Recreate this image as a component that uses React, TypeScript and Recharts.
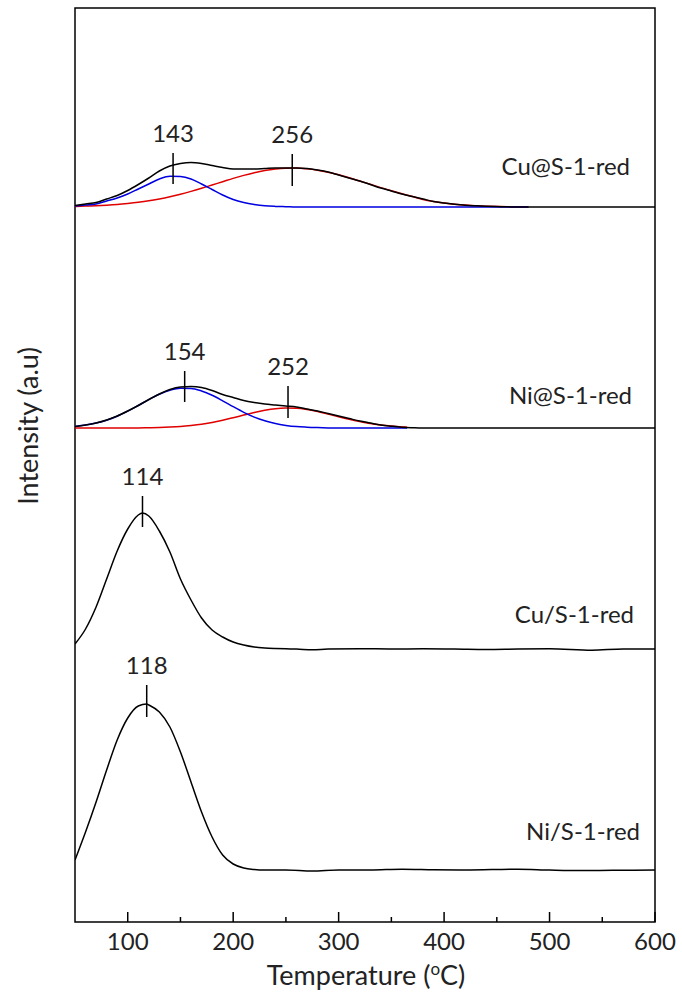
import { LineChart, Line, XAxis, YAxis, ReferenceArea, ReferenceLine, ReferenceDot } from "recharts";

const FONT = "Lato, 'Open Sans', sans-serif";
const TEXT = "#222";

// Cu@S-1-red: measured trace plus the two fitted components
const cuAtTemp = [50, 60, 70, 80, 90, 100, 110, 120, 130, 140, 150, 160, 170, 180, 190, 200, 210, 220, 230, 240, 250, 260, 270, 280, 290, 300, 310, 320, 330, 340, 350, 360, 370, 380, 390, 400, 410, 420, 430, 440, 450, 460, 470, 480, 500, 520, 540, 560, 580, 600];
const cuAtTotal = [1.5, 3, 4.5, 8, 11.5, 16.5, 22.5, 29, 36, 41, 43.5, 44.5, 43.5, 41.5, 39.5, 38, 38, 38, 38.5, 39, 39, 39, 38.5, 37, 35, 32, 29, 26, 22.5, 19, 16, 13, 10.5, 8, 5.5, 4, 2.8, 1.8, 1.2, 0.7, 0.4, 0.2, 0, 0, 0, 0, 0, 0, 0, 0];
const cuAtFitTemp = [50, 60, 70, 80, 90, 100, 110, 120, 130, 140, 150, 160, 170, 180, 190, 200, 210, 220, 230, 240, 250, 260, 270, 280, 290, 300, 310, 320, 330, 340, 350, 360, 370, 380, 390, 400, 410, 420, 430, 440, 450, 460, 470, 480];
const cuAtLow = [1, 2, 3, 6, 9, 13, 18, 23, 28, 30.8, 30.5, 28, 23, 17.5, 12, 7.5, 4.5, 2.5, 1.2, 0.6, 0.3, 0, 0, 0, 0, 0, 0, 0, 0, 0, 0, 0, 0, 0, 0, 0, 0, 0, 0, 0, 0, 0, 0, 0];
const cuAtHigh = [0.6, 0.9, 1.3, 1.8, 2.5, 3.5, 4.7, 6.2, 8.1, 10.3, 12.8, 15.6, 18.7, 22, 25.3, 28.6, 31.6, 34.3, 36.5, 38, 38.8, 39, 38.2, 36.8, 34.8, 32.2, 29.2, 26, 22.7, 19.4, 16.2, 13.3, 10.5, 7.5, 5.5, 4, 2.8, 1.9, 1.2, 0.8, 0.5, 0.3, 0.15, 0];

// Ni@S-1-red
const niAtTemp = [50, 60, 70, 80, 90, 100, 110, 120, 130, 140, 150, 160, 170, 180, 190, 200, 210, 220, 230, 240, 250, 260, 270, 280, 290, 300, 310, 320, 330, 340, 350, 360, 370, 380, 400, 420, 440, 460, 480, 500, 520, 540, 560, 580, 600];
const niAtTotal = [1.5, 3, 5, 8, 12, 17, 22.5, 28.5, 34, 38.5, 41, 41.5, 40.5, 37.5, 33.5, 30.5, 27.5, 25.5, 24, 23, 22, 21, 19, 17, 14.5, 12, 9.5, 7, 5, 3, 1.8, 0.8, 0.3, 0, 0, 0, 0, 0, 0, 0, 0, 0, 0, 0, 0];
const niAtFitTemp = [50, 60, 70, 80, 90, 100, 110, 120, 130, 140, 150, 160, 170, 180, 190, 200, 210, 220, 230, 240, 250, 260, 270, 280, 290, 300, 310, 320, 330, 340, 350, 360, 365];
const niAtLow = [1.6, 2.9, 4.9, 7.8, 11.8, 16.8, 22.5, 28.4, 33.7, 37.7, 39.8, 39.6, 37, 32.7, 27.2, 21.3, 15.7, 10.9, 7.2, 4.4, 2.6, 1.4, 0.8, 0.4, 0.1, 0, 0, 0, 0, 0, 0, 0, 0];
const niAtHigh = [0, 0, 0, 0, 0, 0, 0.1, 0.3, 0.5, 0.9, 1.5, 2.5, 3.8, 5.6, 7.7, 10.3, 12.9, 15.5, 17.7, 19.3, 19.9, 19.7, 18.5, 16.5, 14, 11.3, 8.7, 6.4, 4.4, 3, 1.9, 1.1, 0.8];

// Cu/S-1-red
const cuTemp = [50, 60, 70, 80, 90, 100, 110, 114, 120, 130, 140, 150, 160, 170, 180, 190, 200, 210, 220, 230, 240, 250, 260, 275, 290, 320, 350, 380, 410, 440, 470, 500, 540, 570, 600];
const cuSignal = [5, 20, 42, 70, 98, 120, 134, 136, 133, 118, 97, 70, 49, 31, 19, 12, 7, 4, 2, 1, 0.5, 0.2, 0, -0.8, 0, 0.3, 0, 0.2, 0, -0.5, 0, 0.3, -1.2, 0, 0];

// Ni/S-1-red
const niTemp = [50, 60, 70, 80, 90, 100, 110, 118, 120, 130, 140, 150, 160, 170, 180, 190, 200, 210, 220, 230, 250, 275, 300, 330, 360, 390, 420, 470, 500, 530, 560, 600];
const niSignal = [10, 38, 68, 100, 130, 152, 164, 166, 165, 158, 143, 118, 88, 58, 33, 15, 6, 2, 0.5, 0, 0, -1, 0, 0, 0.8, 0.3, 0, 0.8, 0, -0.5, -0.3, 0];

// peak positions and the span of each marker above its own baseline
const peakTemps = [143, 256, 154, 252, 114, 118];
const peakMarkLow = [23, 21, 26, 10, 122, 153];
const peakMarkHigh = [54, 53, 57, 42, 153, 185];

const xTicks = [100, 200, 300, 400, 500, 600];
const xMinorTicks = [150, 250, 350, 450, 550];

// vertical stacking of the four traces
const CU_AT_BASE = 715;
const NI_AT_BASE = 494;
const CU_BASE = 273;
const NI_BASE = 52;
const Y_MAX = 914;
const peakBase = [CU_AT_BASE, CU_AT_BASE, NI_AT_BASE, NI_AT_BASE, CU_BASE, NI_BASE];

const toPoints = (temps: number[], vals: number[], base: number) =>
  temps.map((t, i) => ({ t, v: vals[i] + base }));

const RED = "#e00000";
const BLUE = "#0000e0";

export default function App() {
  const curve = (key: string, temps: number[], vals: number[], base: number, color: string) => (
    <Line
      key={key}
      data={toPoints(temps, vals, base)}
      dataKey="v"
      type="monotone"
      stroke={color}
      strokeWidth={1.5}
      dot={false}
      activeDot={false}
      isAnimationActive={false}
    />
  );

  return (
    <div style={{ position: "absolute", left: 0, top: 0, background: "#fff" }}>
      <LineChart width={682} height={996} margin={{ top: 8, right: 27, left: 75, bottom: 0 }}>
        <XAxis
          dataKey="t"
          type="number"
          domain={[50, 600]}
          ticks={xTicks}
          allowDataOverflow
          height={74}
          axisLine={false}
          tickLine={false}
          tickSize={0}
          tickMargin={11}
          tick={{ fontSize: 24, fill: TEXT, fontFamily: FONT }}
        />
        <YAxis hide type="number" domain={[0, Y_MAX]} allowDataOverflow />

        {curve("cuAtHigh", cuAtFitTemp, cuAtHigh, CU_AT_BASE, RED)}
        {curve("cuAtLow", cuAtFitTemp, cuAtLow, CU_AT_BASE, BLUE)}
        {curve("cuAtTotal", cuAtTemp, cuAtTotal, CU_AT_BASE, "#000")}
        {curve("niAtHigh", niAtFitTemp, niAtHigh, NI_AT_BASE, RED)}
        {curve("niAtLow", niAtFitTemp, niAtLow, NI_AT_BASE, BLUE)}
        {curve("niAtTotal", niAtTemp, niAtTotal, NI_AT_BASE, "#000")}
        {curve("cu", cuTemp, cuSignal, CU_BASE, "#000")}
        {curve("ni", niTemp, niSignal, NI_BASE, "#000")}

        {peakTemps.map((t, i) => (
          <ReferenceLine
            key={`pk${i}`}
            segment={[
              { x: t, y: peakBase[i] + peakMarkLow[i] },
              { x: t, y: peakBase[i] + peakMarkHigh[i] },
            ]}
            stroke="#000"
            strokeWidth={1.5}
          />
        ))}
        {peakTemps.map((t, i) => (
          <ReferenceDot
            key={`pl${i}`}
            x={t}
            y={peakBase[i] + peakMarkHigh[i]}
            r={0}
            fill="none"
            stroke="none"
            label={{ value: String(t), position: "top", offset: 11, fontSize: 24, fill: TEXT, fontFamily: FONT }}
          />
        ))}

        {xTicks.map((t) => (
          <ReferenceLine key={`mj${t}`} segment={[{ x: t, y: 0 }, { x: t, y: 10 }]} stroke="#000" strokeWidth={1.5} />
        ))}
        {xMinorTicks.map((t) => (
          <ReferenceLine key={`mn${t}`} segment={[{ x: t, y: 0 }, { x: t, y: 5 }]} stroke="#000" strokeWidth={1.5} />
        ))}

        <ReferenceArea x1={50} x2={600} y1={0} y2={Y_MAX} fill="none" stroke="#000" strokeWidth={1.5} />

        <text x={630} y={175} textAnchor="end" fontSize={24} fill={TEXT} fontFamily={FONT}>Cu@S-1-red</text>
        <text x={632} y={404} textAnchor="end" fontSize={24} fill={TEXT} fontFamily={FONT}>Ni@S-1-red</text>
        <text x={634} y={623} textAnchor="end" fontSize={24} fill={TEXT} fontFamily={FONT}>Cu/S-1-red</text>
        <text x={640} y={840} textAnchor="end" fontSize={24} fill={TEXT} fontFamily={FONT}>Ni/S-1-red</text>

        <text x={366} y={985} textAnchor="middle" fontSize={27} fill={TEXT} fontFamily={FONT}>
          Temperature (<tspan dy={-10} fontSize={17}>o</tspan><tspan dy={10}>C)</tspan>
        </text>
        <text
          x={38}
          y={426}
          textAnchor="middle"
          fontSize={27}
          fill={TEXT}
          fontFamily={FONT}
          transform="rotate(-90 38 426)"
        >
          Intensity (a.u)
        </text>
      </LineChart>
    </div>
  );
}
